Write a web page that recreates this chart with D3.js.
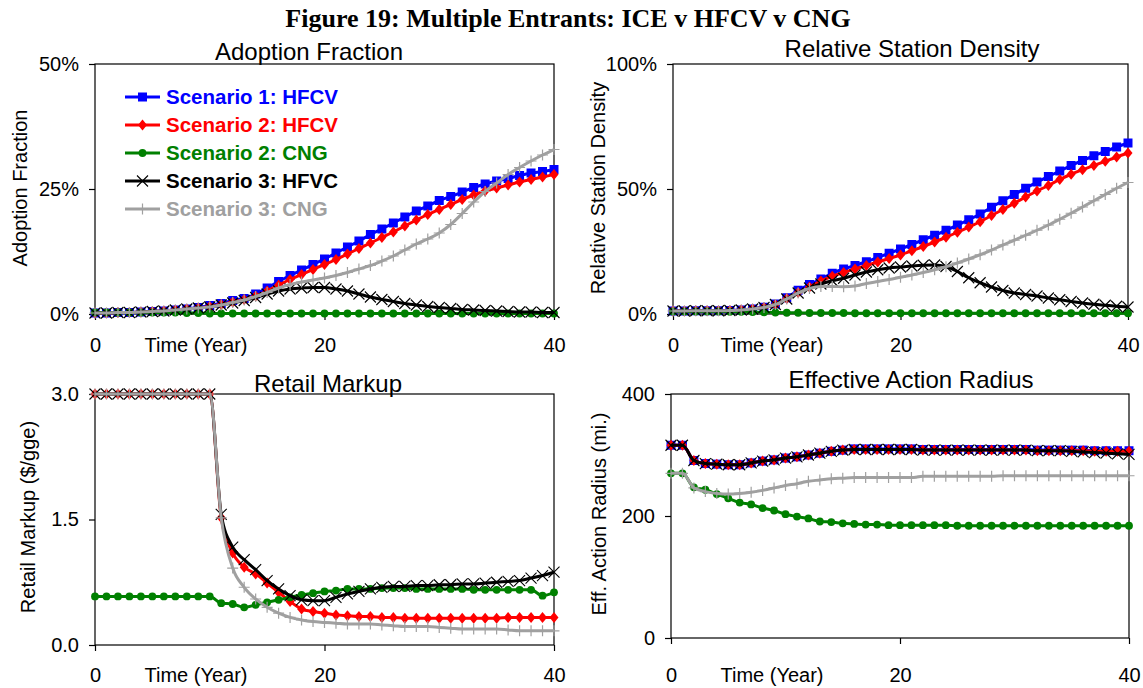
<!DOCTYPE html>
<html>
<head>
<meta charset="utf-8">
<script src="https://cdn.jsdelivr.net/npm/d3@7"></script>
<style>
  body { margin: 0; background: #fff; }
  svg { display: block; }
  text { font-family: "Liberation Sans", Arial, sans-serif; }
</style>
</head>
<body>
<svg id="fig" width="1143" height="688"></svg>
<script>
// ---- data: yearly values, t = 0..40 ----
const years = d3.range(0, 41);
const seriesLabels = ["Scenario 1: HFCV", "Scenario 2: HFCV", "Scenario 2: CNG", "Scenario 3: HFVC", "Scenario 3: CNG"];
const xTicks = [0, 20, 40];

// Adoption fraction (%)
const adoptS1Hfcv = [0.2,0.2,0.3,0.3,0.4,0.5,0.6,0.8,1.0,1.3,1.7,2.1,2.7,3.1,4.0,5.2,6.5,7.7,8.8,9.9,11.0,12.2,13.4,14.6,15.9,17.0,18.2,19.4,20.6,21.6,22.7,23.5,24.4,25.3,26.0,26.6,27.1,27.7,28.2,28.5,28.9];
const adoptS2Hfcv = [0.2,0.2,0.3,0.3,0.4,0.5,0.6,0.8,1.0,1.2,1.5,1.9,2.4,2.9,3.6,4.6,5.8,6.9,7.9,8.9,9.9,10.9,12.0,13.1,14.2,15.3,16.4,17.6,18.8,19.9,20.9,21.9,22.9,23.8,24.6,25.2,25.8,26.4,26.9,27.4,27.9];
const adoptS2Cng  = [0.3,0.3,0.3,0.3,0.3,0.3,0.3,0.3,0.2,0.2,0.1,0.1,0.1,0.1,0.1,0.1,0.1,0.1,0.1,0.1,0.1,0.1,0.1,0.1,0.1,0.1,0.1,0.1,0.1,0.1,0.1,0.1,0.1,0.1,0.1,0.1,0.1,0.1,0.1,0.1,0.1];
const adoptS3Hfcv = [0.2,0.2,0.3,0.3,0.4,0.5,0.6,0.8,1.0,1.2,1.4,1.8,2.2,2.7,3.3,4.0,4.6,5.0,5.2,5.3,5.3,5.0,4.6,4.0,3.4,2.9,2.5,2.1,1.8,1.5,1.3,1.1,0.9,0.8,0.7,0.6,0.5,0.4,0.4,0.3,0.3];
const adoptS3Cng  = [0.2,0.2,0.3,0.3,0.4,0.5,0.6,0.8,1.0,1.2,1.4,1.8,2.3,2.8,3.5,4.3,5.2,5.9,6.4,6.8,7.2,7.7,8.3,9.0,9.7,10.6,11.6,12.8,14.0,15.0,16.2,17.9,20.1,22.4,24.5,26.2,27.9,29.3,30.6,31.8,32.9];

// Relative station density (%)
const densS1Hfcv = [1.2,1.2,1.3,1.3,1.3,1.4,1.6,2.0,2.7,4.0,6.5,9.5,11.8,14.0,16.3,18.0,19.4,20.9,22.6,24.3,26.0,27.8,29.7,31.5,33.5,35.6,37.7,40.0,42.7,45.3,47.8,50.3,52.8,55.0,57.2,59.4,61.4,63.3,65.0,66.8,68.4];
const densS2Hfcv = [1.2,1.2,1.3,1.3,1.3,1.4,1.6,2.0,2.6,3.8,6.2,8.6,10.8,13.2,15.1,16.6,18.0,19.4,20.8,22.2,23.6,25.3,27.0,28.8,30.7,32.7,34.8,36.9,39.4,41.8,44.3,46.8,49.2,51.4,53.8,55.9,57.7,59.4,61.1,62.8,64.4];
const densS2Cng  = [1.0,1.0,1.0,1.0,1.0,0.9,0.9,0.8,0.7,0.6,0.5,0.5,0.4,0.4,0.4,0.4,0.3,0.3,0.3,0.3,0.3,0.3,0.3,0.3,0.3,0.3,0.3,0.3,0.3,0.3,0.3,0.3,0.3,0.3,0.3,0.3,0.3,0.3,0.3,0.3,0.3];
const densS3Hfcv = [1.2,1.2,1.3,1.3,1.3,1.4,1.6,2.0,2.6,3.8,6.0,8.4,10.4,12.0,13.3,14.3,15.6,16.8,17.7,18.4,18.8,19.2,19.5,19.6,19.0,17.0,14.5,12.5,10.8,9.4,8.4,7.8,7.2,6.4,5.7,5.0,4.4,3.9,3.5,3.1,2.8];
const densS3Cng  = [1.2,1.2,1.3,1.3,1.3,1.4,1.6,2.0,2.6,3.8,6.0,8.4,10.2,11.0,11.0,10.9,11.2,12.2,13.0,13.8,14.7,15.6,16.6,17.7,18.9,20.4,22.0,23.7,25.6,27.6,29.5,31.5,33.5,35.6,37.9,40.3,42.8,45.3,47.8,50.3,52.6];

// Retail markup ($/gge); scenario 1 is not shown on this panel
const markS2Hfcv = [3,3,3,3,3,3,3,3,3,3,3,1.52,1.10,0.93,0.85,0.74,0.63,0.52,0.43,0.40,0.38,0.36,0.35,0.34,0.34,0.33,0.33,0.32,0.32,0.32,0.32,0.32,0.32,0.32,0.32,0.32,0.33,0.33,0.33,0.33,0.33];
const markS2Cng  = [0.58,0.58,0.58,0.58,0.58,0.58,0.58,0.58,0.58,0.58,0.58,0.50,0.49,0.45,0.48,0.51,0.54,0.57,0.60,0.62,0.64,0.65,0.67,0.67,0.67,0.68,0.68,0.68,0.67,0.67,0.67,0.67,0.67,0.66,0.66,0.66,0.66,0.66,0.66,0.59,0.63];
const markS3Hfcv = [3,3,3,3,3,3,3,3,3,3,3,1.56,1.17,1.02,0.90,0.77,0.67,0.59,0.54,0.53,0.53,0.57,0.61,0.64,0.67,0.69,0.70,0.70,0.71,0.71,0.72,0.72,0.73,0.73,0.74,0.75,0.76,0.77,0.80,0.83,0.87];
const markS3Cng  = [3,3,3,3,3,3,3,3,3,3,3,1.52,0.92,0.69,0.55,0.45,0.38,0.33,0.30,0.28,0.27,0.26,0.25,0.25,0.25,0.24,0.23,0.22,0.22,0.22,0.21,0.20,0.19,0.19,0.19,0.19,0.18,0.17,0.17,0.17,0.17];

// Effective action radius (mi.)
const radS1Hfcv = [316,316,291,286,285,284,284,287,290,292,295,297,300,303,306,308,310,310,310,310,310,310,309,309,309,309,309,309,309,309,309,309,308,308,308,308,308,307,307,307,307];
const radS2Hfcv = [316,316,291,286,285,284,284,287,290,292,295,297,300,303,306,308,309,309,309,309,309,309,308,308,308,308,308,308,308,308,308,308,307,307,307,307,307,306,306,306,306];
const radS2Cng  = [270,270,247,243,236,229,222,219,213,209,203,199,196,191,190,188,187,186,186,185,185,185,185,185,185,184,184,184,184,184,184,184,184,184,184,184,184,184,184,184,184];
const radS3Hfcv = [316,316,291,286,285,284,284,287,290,292,295,297,300,303,306,308,309,309,309,309,309,309,308,308,308,308,308,308,308,308,308,308,307,307,307,306,305,304,303,302,301];
const radS3Cng  = [270,270,246,240,237,236,237,239,242,246,250,253,257,259,261,262,263,263,263,263,263,263,265,265,265,265,265,265,265,266,266,266,266,266,266,266,266,266,266,266,266];

// ---- drawing ----
const svg = d3.select("#fig");

const styles = [
  { color: "#0000ff", marker: "square" },
  { color: "#ff0000", marker: "diamond" },
  { color: "#008000", marker: "circle" },
  { color: "#000000", marker: "cross" },
  { color: "#a0a0a0", marker: "plus" }
];

function drawMarker(g, type, color, x, y) {
  if (type === "square") {
    g.append("rect").attr("x", x - 4.5).attr("y", y - 4.5).attr("width", 9).attr("height", 9).attr("fill", color);
  } else if (type === "diamond") {
    g.append("path").attr("d", `M${x},${y - 5.5}L${x + 4.5},${y}L${x},${y + 5.5}L${x - 4.5},${y}Z`).attr("fill", color);
  } else if (type === "circle") {
    g.append("circle").attr("cx", x).attr("cy", y).attr("r", 3.9).attr("fill", color);
  } else if (type === "cross") {
    g.append("path").attr("d", `M${x - 5.5},${y - 5.5}L${x + 5.5},${y + 5.5}M${x - 5.5},${y + 5.5}L${x + 5.5},${y - 5.5}`)
      .attr("stroke", color).attr("stroke-width", 1.1).attr("fill", "none");
  } else if (type === "plus") {
    g.append("path").attr("d", `M${x - 5.5},${y}L${x + 5.5},${y}M${x},${y - 5.5}L${x},${y + 5.5}`)
      .attr("stroke", color).attr("stroke-width", 1.2).attr("fill", "none");
  }
}

svg.append("text")
  .attr("x", 568).attr("y", 27)
  .attr("text-anchor", "middle")
  .style("font-family", "'Liberation Serif', 'Times New Roman', serif")
  .style("font-weight", "bold").style("font-size", "26px")
  .text("Figure 19: Multiple Entrants: ICE v HFCV v CNG");

const panels = [
  { title: "Adoption Fraction", yLabel: "Adoption Fraction",
    box: [95, 554, 64, 314], domain: [0, 50], yTicks: [0, 25, 50], fmt: d => d + "%",
    series: [adoptS1Hfcv, adoptS2Hfcv, adoptS2Cng, adoptS3Hfcv, adoptS3Cng],
    titleXY: [309, 60], yLabXY: [20, 188], timeX: 196, xPad: 18 },
  { title: "Relative Station Density", yLabel: "Relative Station Density",
    box: [673, 1128, 64, 314], domain: [0, 100], yTicks: [0, 50, 100], fmt: d => d + "%",
    series: [densS1Hfcv, densS2Hfcv, densS2Cng, densS3Hfcv, densS3Cng],
    titleXY: [912, 57], yLabXY: [598, 188], timeX: 772, xPad: 18 },
  { title: "Retail Markup", yLabel: "Retail Markup ($/gge)",
    box: [95, 554, 394, 645], domain: [0, 3], yTicks: [0, 1.5, 3], fmt: d3.format(".1f"),
    series: [null, markS2Hfcv, markS2Cng, markS3Hfcv, markS3Cng],
    titleXY: [328, 392], yLabXY: [28, 517], timeX: 196, xPad: 17 },
  { title: "Effective Action Radius", yLabel: "Eff. Action Radius (mi.)",
    box: [671, 1129, 394, 638], domain: [0, 400], yTicks: [0, 200, 400], fmt: d => d,
    series: [radS1Hfcv, radS2Hfcv, radS2Cng, radS3Hfcv, radS3Cng],
    titleXY: [911, 388], yLabXY: [599, 514], timeX: 772, xPad: 24 }
];

panels.forEach(p => {
  const [x0, x1, y0, y1] = p.box;
  const x = d3.scaleLinear().domain([0, 40]).range([x0, x1]);
  const y = d3.scaleLinear().domain(p.domain).range([y1, y0]);
  const g = svg.append("g");

  // axes
  const yAxis = g.append("g").attr("transform", `translate(${x0},0)`)
    .call(d3.axisLeft(y).tickValues(p.yTicks).tickFormat(p.fmt).tickSize(6).tickPadding(10));
  const xAxis = g.append("g").attr("transform", `translate(0,${y1})`)
    .call(d3.axisBottom(x).tickValues(xTicks).tickFormat(d3.format("d")).tickSize(6).tickPadding(p.xPad));
  [yAxis, xAxis].forEach(a => {
    a.select(".domain").remove();
    a.selectAll("line").attr("stroke", "#000").attr("stroke-width", 1.2);
    a.selectAll("text").style("font-size", "20px").attr("fill", "#000")
      .style("font-family", "'Liberation Sans', Arial, sans-serif");
  });

  // plot frame
  g.append("rect").attr("x", x0).attr("y", y0).attr("width", x1 - x0).attr("height", y1 - y0)
    .attr("fill", "none").attr("stroke", "#000").attr("stroke-width", 1.2);

  // titles and labels
  g.append("text").attr("x", p.titleXY[0]).attr("y", p.titleXY[1]).attr("text-anchor", "middle")
    .style("font-size", "24px").text(p.title);
  g.append("text").attr("transform", `translate(${p.yLabXY[0]},${p.yLabXY[1]}) rotate(-90)`)
    .attr("text-anchor", "middle").attr("dy", "0.35em").style("font-size", "20px").text(p.yLabel);
  g.append("text").attr("x", p.timeX).attr("y", y1 + 6 + p.xPad).attr("dy", "0.71em")
    .attr("text-anchor", "middle").style("font-size", "20px").text("Time (Year)");

  // series
  const line = d3.line().x((d, i) => x(years[i])).y(d => y(d)).curve(d3.curveMonotoneX);
  p.series.forEach((vals, si) => {
    if (!vals) return;
    const st = styles[si];
    const sg = g.append("g");
    sg.append("path").attr("d", line(vals)).attr("fill", "none")
      .attr("stroke", st.color).attr("stroke-width", 3).attr("stroke-linejoin", "round");
    vals.forEach((v, i) => drawMarker(sg, st.marker, st.color, x(years[i]), y(v)));
  });
});

// legend (inside the adoption panel)
const leg = svg.append("g");
seriesLabels.forEach((name, i) => {
  const st = styles[i];
  const cy = 97 + i * 28;
  leg.append("line").attr("x1", 125).attr("x2", 160).attr("y1", cy).attr("y2", cy)
    .attr("stroke", st.color).attr("stroke-width", 3);
  drawMarker(leg, st.marker, st.color, 142.5, cy);
  leg.append("text").attr("x", 166).attr("y", cy).attr("dy", "0.36em")
    .style("font-size", "20.5px").style("font-weight", "bold").attr("fill", st.color).text(name);
});
</script>
</body>
</html>
